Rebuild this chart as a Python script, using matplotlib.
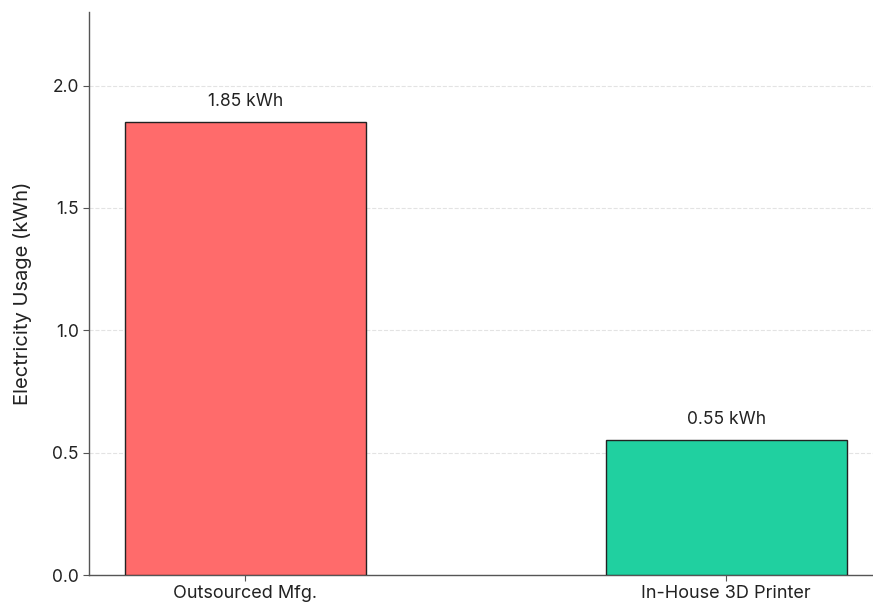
import matplotlib
matplotlib.use("Agg")
import matplotlib.pyplot as plt

categories = ["Outsourced Mfg.", "In-House 3D Printer"]
usage_kwh = [1.85, 0.55]
bar_colors = ["#FF6B6B", "#20D0A0"]
value_labels = ["1.85 kWh", "0.55 kWh"]

plt.rcParams["font.family"] = ["Inter", "DejaVu Sans"]

fig = plt.figure(figsize=(8.73, 6.04), dpi=100)
ax = fig.add_axes([0.102, 0.048, 0.909, 0.932])

x = range(len(categories))
bars = ax.bar(x, usage_kwh, width=0.5, color=bar_colors,
              edgecolor="#222222", linewidth=1.0, zorder=3)

for b, lbl in zip(bars, value_labels):
    ax.text(b.get_x() + b.get_width() / 2, b.get_height() + 0.05, lbl,
            ha="center", va="bottom", fontsize=12.5, color="#222222")

ax.set_xticks(list(x))
ax.set_xticklabels(categories, fontsize=13, color="#222222")
ax.set_xlim(-0.325, 1.325)
ax.set_ylim(0, 2.3)
ax.set_yticks([0.0, 0.5, 1.0, 1.5, 2.0])
ax.set_yticklabels(["0.0", "0.5", "1.0", "1.5", "2.0"], fontsize=12.5, color="#222222")
ax.set_ylabel("Electricity Usage (kWh)", fontsize=14.5, color="#222222", labelpad=14)

ax.yaxis.grid(True, linestyle="--", color="#dddddd", linewidth=0.8, alpha=0.8, zorder=0)
ax.set_axisbelow(True)
for side in ("top", "right"):
    ax.spines[side].set_visible(False)
for side in ("left", "bottom"):
    ax.spines[side].set_color("#555555")
    ax.spines[side].set_linewidth(1.0)
ax.tick_params(axis="both", colors="#555555", labelcolor="#222222", length=4)

fig.savefig("out.png", dpi=100)
